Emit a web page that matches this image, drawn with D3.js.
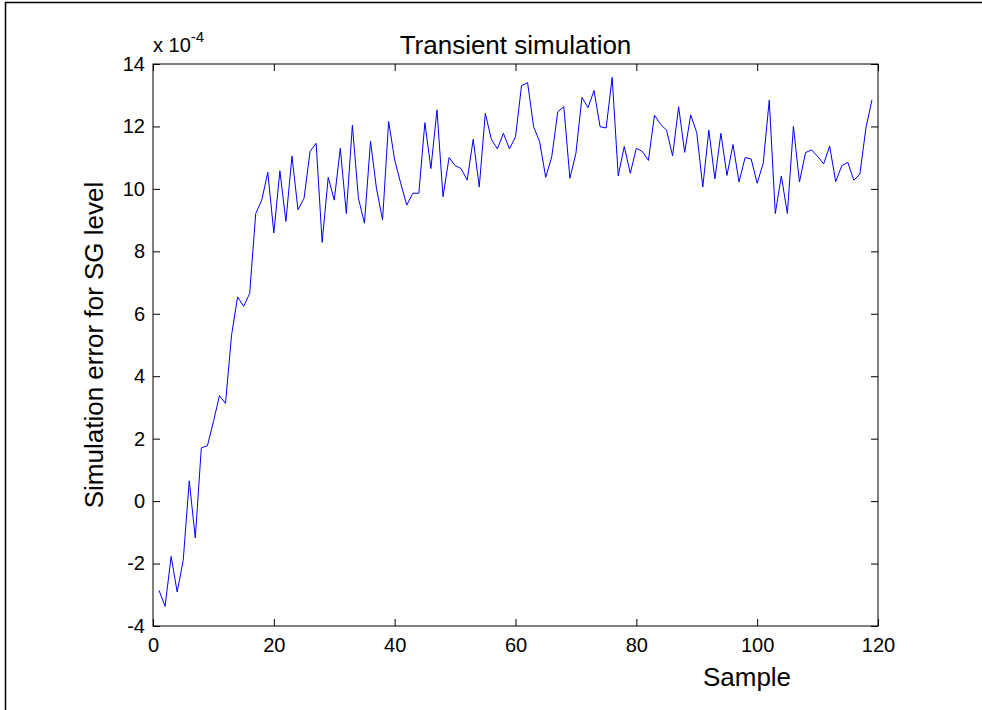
<!DOCTYPE html>
<html>
<head>
<meta charset="utf-8">
<script src="https://d3js.org/d3.v7.min.js"></script>
<style>
  body { margin: 0; background: #fff; }
  svg { display: block; font-family: Arial, "Liberation Sans", Helvetica, sans-serif; }
</style>
</head>
<body>
<div id="chart"></div>
<script>
// simulation error (x 1e-4) for samples 1..119
const errorValues = [
  -2.86, -3.37, -1.77, -2.91, -1.9, 0.65, -1.18, 1.71, 1.77, 2.54,
  3.38, 3.13, 5.31, 6.54, 6.24, 6.65, 9.21, 9.64, 10.53, 8.59,
  10.58, 8.96, 11.05, 9.33, 9.7, 11.2, 11.46, 8.29, 10.37, 9.64,
  11.3, 9.21, 12.04, 9.7, 8.9, 11.53, 10.0, 9.01, 12.16, 10.93,
  10.18, 9.48, 9.86, 9.86, 12.12, 10.65, 12.53, 9.75, 11.0, 10.75,
  10.65, 10.28, 11.59, 10.06, 12.42, 11.59, 11.28, 11.78, 11.28, 11.67,
  13.31, 13.4, 11.99, 11.51, 10.37, 11.03, 12.47, 12.63, 10.34, 11.14,
  12.93, 12.6, 13.15, 11.99, 11.95, 13.57, 10.42, 11.36, 10.5, 11.3,
  11.2, 10.91, 12.36, 12.07, 11.88, 11.06, 12.63, 11.17, 12.37, 11.8,
  10.06, 11.88, 10.32, 11.78, 10.43, 11.42, 10.22, 11.0, 10.96, 10.18,
  10.82, 12.84, 9.21, 10.41, 9.21, 12.0, 10.22, 11.16, 11.25, 11.04,
  10.8, 11.37, 10.23, 10.74, 10.85, 10.28, 10.47, 11.95, 12.85
]
const samples = errorValues.map((v, i) => i + 1)
const xTicks = [0, 20, 40, 60, 80, 100, 120]
const yTicks = [-4, -2, 0, 2, 4, 6, 8, 10, 12, 14]

const titleText = 'Transient simulation'
const xLabelText = 'Sample'
const yLabelText = 'Simulation error for SG level'

const width = 982, height = 710
const plotLeft = 153, plotRight = 878, plotTop = 64, plotBottom = 626
const tickLen = 7

const svg = d3.select('#chart').append('svg')
  .attr('width', width)
  .attr('height', height)

// figure frame
svg.append('line')
  .attr('x1', 5.5).attr('y1', 2).attr('x2', 5.5).attr('y2', height)
  .attr('stroke', '#000').attr('stroke-width', 1.5)
svg.append('line')
  .attr('x1', 5).attr('y1', 2.5).attr('x2', width).attr('y2', 2.5)
  .attr('stroke', '#000').attr('stroke-width', 1.5)

const x = d3.scaleLinear().domain([0, 120]).range([plotLeft, plotRight])
const y = d3.scaleLinear().domain([-4, 14]).range([plotBottom, plotTop])

const plainFmt = d => String(d)

// axes with inward ticks on all four sides
const axisBottom = d3.axisBottom(x).tickValues(xTicks).tickFormat(plainFmt)
  .tickSizeInner(-tickLen).tickSizeOuter(0).tickPadding(12)
const axisTop = d3.axisTop(x).tickValues(xTicks).tickSizeInner(-tickLen).tickSizeOuter(0).tickFormat('')
const axisLeft = d3.axisLeft(y).tickValues(yTicks).tickFormat(plainFmt)
  .tickSizeInner(-tickLen).tickSizeOuter(0).tickPadding(8)
const axisRight = d3.axisRight(y).tickValues(yTicks).tickSizeInner(-tickLen).tickSizeOuter(0).tickFormat('')

function styleAxis(g) {
  g.attr('font-size', 20).attr('font-family', 'Arial, "Liberation Sans", sans-serif')
  g.select('.domain').remove()
  g.selectAll('.tick line').attr('stroke', '#000')
  g.selectAll('.tick text').attr('fill', '#000')
}

svg.append('g').attr('transform', `translate(0,${plotBottom})`).call(axisBottom).call(styleAxis)
svg.append('g').attr('transform', `translate(0,${plotTop})`).call(axisTop).call(styleAxis)
svg.append('g').attr('transform', `translate(${plotLeft},0)`).call(axisLeft).call(styleAxis)
svg.append('g').attr('transform', `translate(${plotRight},0)`).call(axisRight).call(styleAxis)

// box
svg.append('rect')
  .attr('x', plotLeft).attr('y', plotTop)
  .attr('width', plotRight - plotLeft).attr('height', plotBottom - plotTop)
  .attr('fill', 'none').attr('stroke', '#000').attr('stroke-width', 1)

// data line
const line = d3.line()
  .x((d, i) => x(samples[i]))
  .y(d => y(d))

svg.append('path')
  .datum(errorValues)
  .attr('d', line)
  .attr('fill', 'none')
  .attr('stroke', '#0000ff')
  .attr('stroke-width', 1)

// exponent label
const expo = svg.append('text')
  .attr('x', plotLeft)
  .attr('y', 52)
  .attr('font-size', 20)
  .attr('fill', '#000')
expo.append('tspan').text('x 10')
expo.append('tspan').attr('dy', -10).attr('font-size', 15).text('-4')

// title and labels
svg.append('text')
  .attr('x', (plotLeft + plotRight) / 2)
  .attr('y', 54)
  .attr('text-anchor', 'middle')
  .attr('font-size', 26)
  .attr('fill', '#000')
  .text(titleText)

svg.append('text')
  .attr('x', 747)
  .attr('y', 686)
  .attr('text-anchor', 'middle')
  .attr('font-size', 26)
  .attr('fill', '#000')
  .text(xLabelText)

svg.append('text')
  .attr('transform', `translate(103,${(plotTop + plotBottom) / 2}) rotate(-90)`)
  .attr('text-anchor', 'middle')
  .attr('font-size', 26)
  .attr('fill', '#000')
  .text(yLabelText)
</script>
</body>
</html>
